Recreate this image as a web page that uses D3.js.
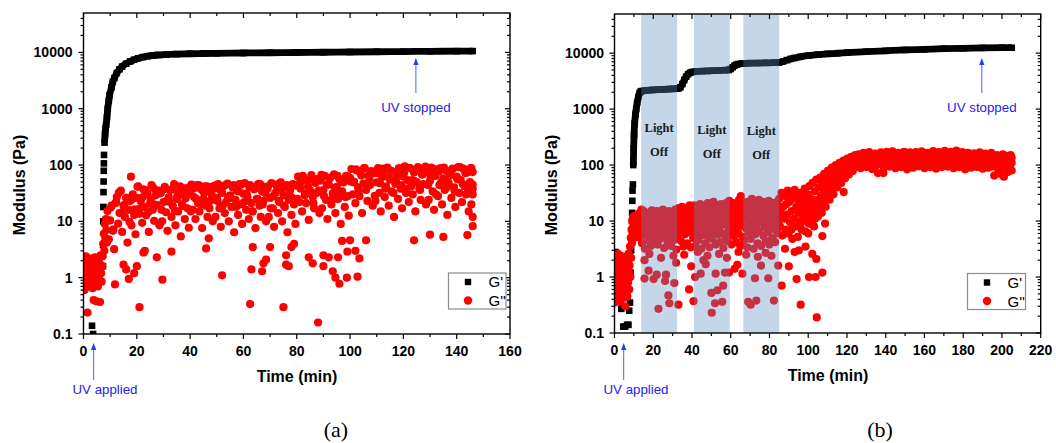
<!DOCTYPE html>
<html><head><meta charset="utf-8">
<script src="https://cdn.jsdelivr.net/npm/d3@7"></script>
<style>body{margin:0;background:#fff}svg{display:block}</style>
</head><body>
<script>
// ---------- data ----------
const xTicksA=[0,20,40,60,80,100,120,140,160];
const xTicksB=[0,20,40,60,80,100,120,140,160,180,200,220];
const yTicks=[0.1,1,10,100,1000,10000];
const yTickLabels=["0.1","1","10","100","1000","10000"];
const legendLabels=["G'","G''"];
const xTitle="Time (min)", yTitle="Modulus (Pa)";
const captions=["(a)","(b)"];
const lightOffB=[[13.8,32.3],[41,59.5],[66.5,85]];
const uvA=[3.8,124.7];   // UV applied, UV stopped (min)
const uvB=[4.75,189.6];

// G' panel (a)
const gpA=[[0.3,0.8],[0.8,1.1],[3.2,0.14],[3.6,0.1],[7.3,1.6],[7.35,3.8],[7.4,10],[7.45,18],[7.5,33],[7.55,51],[7.6,79],[7.65,107],[7.7,151],
[7.9,250],[8.1,360],[8.3,450],[8.5,520],[8.8,700],[9.1,1000],[9.5,1400],[9.8,1750],[10.5,2400],[11,3000],[11.6,3500],[12.5,4300],[13.5,5000],[14.5,5600],[16,6300],[17.5,6900],[19,7400],[20.5,7850],[22.3,8250],[24,8550],[26,8800],[28,8980],[31,9150],[34.8,9300],[40,9450],[45,9550],[50,9620],[60,9750],[70,9850],[80,9950],[90,10050],[100,10150],[110,10250],[120,10350],[130,10450],[140,10500],[146,10550]];

// G'' panel (a)
const gppA=[[0.3,0.6],[0.5,0.9],[0.7,1.5],[0.9,2.4],[1.1,0.8],[1.3,1.1],[1.5,0.24],[1.6,1.9],[1.8,0.7],[2.0,1.3],[2.2,2.2],[2.4,0.9],[2.6,1.6],[2.8,0.75],[3.0,1.2],[3.2,2.0],[3.4,0.65],[3.6,1.4],[3.8,0.4],[4.0,1.0],[4.2,2.3],[4.4,0.8],[4.6,1.7],[4.8,0.38],[5.0,1.1],[5.2,2.1],[5.4,0.7],[5.6,1.5],[5.8,0.95],[6.0,1.8],[6.2,0.37],[6.4,2.5],[6.6,1.2],[6.8,0.85],[7.0,1.6],[7.2,2.4],[7.4,4],[7.6,6],[7.8,3],[8.0,9],[8.2,5],[8.4,11],[8.6,7],[8.8,4.2],
[9.0,15.2],[9.5,4.8],[10.0,10.4],[10.5,19],[11.0,6.8],[11.5,3.2],[12.0,21],[12.5,27],[13.0,9.1],[13.5,14],[14.0,35],[14.5,6.5],[15.0,19],[15.5,12],[16.0,26],[16.5,4.2],[17.0,16],[17.5,23],[18.0,8.5],[18.5,30],[19.0,13],[19.5,5.9],
[20.0,26],[20.5,42],[21.0,13.6],[21.5,23],[22.0,9.4],[22.5,37],[23.0,18],[23.5,12.8],[24.0,31],[24.5,6.5],[25.0,21],[25.5,44],[26.0,16],[26.5,10.2],[27.0,29],[27.5,19.5],[28.0,35],[28.5,8.5],[29.0,32],[29.5,10],[30.0,22],[30.5,41],[31.0,14.5],[31.5,6.8],[32.0,27],[32.5,36],[33.0,12],[33.5,18.7],[34.0,46],[34.5,8.5],[35.0,25],[35.5,15],[36.0,34],[36.5,5.4],[37.0,20],[37.5,30],[38.0,11],[38.5,39],[39.0,17],[39.5,7.7],
[40.0,31],[40.5,45],[41.0,16],[41.5,27],[42.0,11],[42.5,44],[43.0,21],[43.5,15],[44.0,37],[44.5,7.6],[45.0,25],[45.5,42],[46.0,19],[46.5,12],[47.0,34],[47.5,23],[48.0,41],[48.5,10],[49.0,38],[49.5,12],[50.0,26],[50.5,46],[51.0,17],[51.5,8],[52.0,32],[52.5,42],[53.0,14],[53.5,22],[54.0,47],[54.5,10],[55.0,29],[55.5,18],[56.0,40],[56.5,6.4],[57.0,24],[57.5,35],[58.0,13],[58.5,46],[59.0,20],[59.5,9],
[60.0,31],[60.5,48],[61.0,16],[61.5,27],[62.0,11],[62.5,44],[63.0,21],[63.5,15],[64.0,37],[64.5,7.6],[65.0,25],[65.5,46],[66.0,19],[66.5,12],[67.0,34],[67.5,23],[68.0,41],[68.5,10],[69.0,38],[69.5,12],[70.0,26],[70.5,48],[71.0,17],[71.5,8],[72.0,32],[72.5,42],[73.0,14],[73.5,22],[74.0,49],[74.5,10],[75.0,29],[75.5,18],[76.0,40],[76.5,6.4],[77.0,24],[77.5,35],[78.0,13],[78.5,46],[79.0,20],[79.5,9],
[80.0,43],[80.5,62],[81.0,22],[81.5,38],[82.0,15],[82.5,60],[83.0,29],[83.5,21],[84.0,52],[84.5,10.6],[85.0,35],[85.5,66],[86.0,27],[86.5,17],[87.0,48],[87.5,32],[88.0,57],[88.5,14],[89.0,53],[89.5,17],[90.0,36],[90.5,64],[91.0,24],[91.5,11],[92.0,45],[92.5,59],[93.0,20],[93.5,31],[94.0,68],[94.5,14],[95.0,41],[95.5,25],[96.0,56],[96.5,9],[97.0,34],[97.5,49],[98.0,18],[98.5,64],[99.0,28],[99.5,12.6],
[100.0,59],[100.5,85],[101.0,30],[101.5,51],[102.0,21],[102.5,80],[103.0,40],[103.5,28],[104.0,70],[104.5,14],[105.0,47],[105.5,88],[106.0,36],[106.5,23],[107.0,65],[107.5,44],[108.0,78],[108.5,19],[109.0,72],[109.5,23],[110.0,49],[110.5,88],[111.0,32],[111.5,15],[112.0,61],[112.5,80],[113.0,27],[113.5,42],[114.0,90],[114.5,19],[115.0,55],[115.5,34],[116.0,76],[116.5,12],[117.0,46],[117.5,66],[118.0,25],[118.5,87],[119.0,38],[119.5,17],
[120.0,62],[120.5,95],[121.0,32],[121.5,54],[122.0,22],[122.5,88],[123.0,42],[123.5,30],[124.0,74],[124.5,15],[125.0,50],[125.5,92],[126.0,38],[126.5,24],[127.0,68],[127.5,46],[128.0,82],[128.5,20],[129.0,76],[129.5,24],[130.0,52],[130.5,90],[131.0,34],[131.5,16],[132.0,64],[132.5,84],[133.0,28],[133.5,44],[134.0,88],[134.5,20],[135.0,58],[135.5,36],[136.0,80],[136.5,13],[137.0,48],[137.5,70],[138.0,26],[138.5,86],[139.0,40],[139.5,18],[140.0,62],[140.5,92],[141.0,32],[141.5,54],[142.0,22],[142.5,86],[143.0,42],[143.5,30],[144.0,74],[144.5,15],[145.0,50],[145.5,88],[146.0,38],[146,75],[146,45],[146,30],[146,12],[146,8.2],[145.5,20],
[9.25,10.4],[10.25,17.6],[11.25,7.2],[12.25,22],[13.25,32],[14.25,14.3],[15.25,19.5],[16.25,26],[17.25,9.8],[18.25,24.7],[19.25,16.3],
[20.25,41],[21.25,17],[22.25,27],[23.25,36],[24.25,14.5],[25.25,24],[26.25,39],[27.25,19.6],[28.25,31],[29.25,16],[30.25,37],[31.25,23],[32.25,22],[33.25,37],[34.25,15.3],[35.25,29],[36.25,42],[37.25,18.7],[38.25,25.5],[39.25,34],
[40.25,15],[41.25,38],[42.25,25],[43.25,44],[44.25,20],[45.25,32],[46.25,42],[47.25,17],[48.25,28],[49.25,43],[50.25,23],[51.25,36],[52.25,19],[53.25,44],[54.25,27],[55.25,26],[56.25,44],[57.25,18],[58.25,34],[59.25,45],
[60.25,22],[61.25,30],[62.25,40],[63.25,15],[64.25,38],[65.25,25],[66.25,46],[67.25,20],[68.25,32],[69.25,42],[70.25,17],[71.25,28],[72.25,45],[73.25,23],[74.25,36],[75.25,19],[76.25,44],[77.25,27],[78.25,26],[79.25,44],
[80.25,25],[81.25,48],[82.25,64],[83.25,31],[84.25,42],[85.25,56],[86.25,21],[87.25,53],[88.25,35],[89.25,67],[90.25,28],[91.25,45],[92.25,59],[93.25,24],[94.25,39],[95.25,64],[96.25,32],[97.25,50],[98.25,27],[99.25,62],
[100.25,51],[101.25,49],[102.25,84],[103.25,34],[104.25,65],[105.25,88],[106.25,42],[107.25,57],[108.25,76],[109.25,28.5],[110.25,72],[111.25,47.5],[112.25,86],[113.25,38],[114.25,61],[115.25,80],[116.25,32],[117.25,53],[118.25,87],[119.25,44],
[120.25,72],[121.25,38],[122.25,88],[123.25,54],[124.25,52],[125.25,88],[126.25,36],[127.25,68],[128.25,94],[129.25,44],[130.25,60],[131.25,80],[132.25,30],[133.25,76],[134.25,50],[135.25,90],[136.25,40],[137.25,64],[138.25,84],[139.25,34],[140.25,56],[141.25,92],[142.25,46],[143.25,72],[144.25,38],[145.25,88],
[11.8,0.76],[15,1.7],[16,1.4],[17,0.95],[17.8,62],[19,1.2],[20,1.6],[21,0.3],[22.5,2.8],[23,3.0],[27.5,2.3],[29.6,0.92],[33,2.9],[46,3.3],[47,5],[52,1.1],[62.5,0.34],[63,1.4],[63.5,3.5],[67,1.3],[67.5,1.8],[68.5,2.1],[70,3.5],[75,0.3],[76,2.5],[76,1.7],[77,1.6],[78,3.5],[79,4],[84.5,2.3],[86,1.8],[88,0.16],[90,1.6],[90,2.5],[92,2.3],[93.5,1.3],[94.5,1.0],[96,0.78],[95.5,2.3],[98.8,1.0],[99,2.9],[102,3.0],[102.8,1.04],[103.5,2.2],[97,4.5],[100,4.6],[106,4.6],[124,4.6],[130,5.8],[135,5.3],[144,5.7]];

// G' panel (b)
const gpB=[[0.5,2.8],[1,2.2],[1.5,1.4],[2,0.9],[2.5,0.55],[3,0.4],[3.5,0.27],[4,0.3],[4.5,0.13],[5.5,0.13],[6.5,0.14],[7.2,0.14],[7.6,0.25],[8,0.35],[8.3,1.2],[8.6,3],[9.0,10],[9.1,14],[9.2,23],[9.3,35],[9.5,45],
[9.7,100],[9.9,200],[10.1,350],[10.4,550],[10.8,800],[11.2,1000],[11.7,1300],[12.3,1650],[13,1950],[13.5,2050],[14,2100],[16,2150],[18,2180],[20,2200],[22,2220],[24,2240],[26,2260],[28,2280],[30,2300],[32,2320],[33,2340],[34,2450],[35,2800],[36,3300],[37,3800],[38,4200],[39,4450],[40,4600],[42,4700],[45,4750],[48,4800],[51,4850],[54,4900],[57,4950],[59,5000],[60,5200],[61,5600],[62,6000],[63,6250],[64,6400],[66,6500],[70,6600],[74,6650],[78,6700],[82,6750],[85,6800],[87,7100],[89,7500],[91,7900],[93,8200],[96,8600],[100,9000],[105,9400],[110,9700],[115,9950],[120,10200],[130,10600],[140,11000],[150,11400],[160,11700],[170,12000],[180,12200],[190,12400],[200,12500],[205,12500]];

// G'' panel (b)
const gppB=[[0.2,0.35],[0.4,1.2],[0.6,0.6],[0.8,2.2],[1.0,0.9],[1.2,0.45],[1.4,1.6],[1.6,0.75],[1.8,2.6],[2.0,1.1],[2.2,0.5],[2.4,1.9],[2.6,0.37],[2.8,1.3],[3.0,0.8],[3.2,2.4],[3.4,0.55],[3.6,1.5],[3.8,1.0],[4.0,2.0],[4.2,0.65],[4.4,1.2],[4.6,0.42],[4.8,1.7],[5.0,0.9],[5.2,2.3],[5.4,0.5],[5.6,0.3],[5.8,1.4],[6.0,0.7],[6.2,2.1],[6.4,1.0],[6.6,0.45],[6.8,1.8],[7.0,0.8],[7.2,2.6],[7.4,1.2],[7.6,0.6],[7.8,1.6],[8.0,3.5],[8.2,1.0],[8.4,5],[8.6,2.2],[8.8,7],[9.0,4],[9.2,10],[9.4,6],[9.6,12],[9.8,8],[10.0,5],[10.3,11],[10.6,7],[10.9,12.5],[11.2,9],[11.5,5.5],[11.8,12],[12.1,8],[12.4,6],[12.7,11],
[13.0,14],[13.3,5],[13.6,9],[13.9,16],[14.2,4],[14.5,7],[14.8,11],[15.1,15],[15.4,6],[15.7,3.2],[16.0,10],[16.3,13],[16.6,5.5],[16.9,8],[17.2,14],[17.5,4.5],[17.8,9.5],[18.1,6.5],[18.4,12.5],[18.7,3.6],[19.0,7.5],[19.3,15.5],[19.6,10.5],[19.9,5],[20.2,8.5],[20.5,13.5],[20.8,4],[21.1,11.5],[21.4,6],[21.7,9],
[22.0,15],[22.3,3.8],[22.6,12],[22.9,7],[23.2,10],[23.5,4.8],[23.8,14.5],[24.1,8],[24.4,5.8],[24.7,11],[25.0,16],[25.3,6.8],[25.6,3.3],[25.9,9.5],[26.2,13],[26.5,5.2],[26.8,8.8],[27.1,12],[27.4,4.2],[27.7,7.2],[28.0,15],[28.3,10],[28.6,5.6],[28.9,13.5],[29.2,3.6],[29.5,8.2],[29.8,11.5],[30.1,6.2],[30.4,14],[30.7,4.6],
[31.0,9.8],[31.3,16],[31.6,7],[31.9,3.1],[32.2,12.5],[32.5,5.4],[32.8,10.5],[33.1,17],[33.4,6.6],[33.7,8.6],[34.0,13],[34.3,4.4],[34.6,11],[34.9,18],[35.2,7.4],[35.5,3.5],[35.8,9.2],[36.1,14.5],[36.4,5.8],[36.7,12],[37.0,17],[37.3,8],[37.6,4],[37.9,10.5],[38.2,15],[38.5,6.4],[38.8,19],[39.1,9],[39.4,3.4],[39.7,12.5],
[40.0,7.2],[40.3,16],[40.6,5],[40.9,11],[41.2,19],[41.5,8.4],[41.8,3.6],[42.1,13.5],[42.4,6],[42.7,17],[43.0,9.6],[43.3,4.6],[43.6,14],[43.9,7.6],[44.2,20],[44.5,11.5],[44.8,3.2],[45.1,8.8],[45.4,16],[45.7,5.6],[46.0,12.5],[46.3,18],[46.6,6.8],[46.9,4],[47.2,10],[47.5,15],[47.8,8],[48.1,21],[48.4,5.2],[48.7,11.5],
[49.0,3.4],[49.3,14],[49.6,7],[49.9,18],[50.2,9.4],[50.5,4.8],[50.8,13],[51.1,22],[51.4,6.4],[51.7,10.5],[52.0,16],[52.3,3.8],[52.6,8.4],[52.9,19],[53.2,12],[53.5,5.8],[53.8,15],[54.1,7.8],[54.4,4.2],[54.7,11],[55.0,20],[55.3,9],[55.6,6],[55.9,14],[56.2,3.3],[56.5,17],[56.8,8.6],[57.1,12.5],[57.4,5.2],[57.7,21],
[58.0,10],[58.3,4.4],[58.6,15.5],[58.9,7.2],[59.2,23],[59.5,11],[59.8,6.2],[60.1,18],[60.4,3.8],[60.7,13],[61.0,8.4],[61.3,21],[61.6,5.4],[61.9,10.5],[62.2,16],[62.5,7],[62.8,4.2],[63.1,14],[63.4,19],[63.7,9.2],[64.0,6],[64.3,24],[64.6,12],[64.9,3.6],[65.2,28],[65.5,8.2],[65.8,15],[66.1,5.2],[66.4,20],[66.7,10.5],
[67.0,4.6],[67.3,13],[67.6,17],[67.9,7.4],[68.2,22],[68.5,3.4],[68.8,11],[69.1,6.4],[69.4,16],[69.7,9],[70.0,19],[70.3,4.8],[70.6,12.5],[70.9,25],[71.2,7.6],[71.5,14],[71.8,3.2],[72.1,10],[72.4,18],[72.7,5.8],[73.0,21],[73.3,8.8],[73.6,13.5],[73.9,4],[74.2,16],[74.5,24],[74.8,6.6],[75.1,11],[75.4,19],[75.7,3.6],
[76.0,9.4],[76.3,15],[76.6,22],[76.9,5.4],[77.2,12],[77.5,7.8],[77.8,17],[78.1,4.4],[78.4,20],[78.7,10.5],[79.0,14],[79.3,6.4],[79.6,23],[79.9,3.8],[80.2,8.6],[80.5,16],[80.8,12],[81.1,19],[81.4,5],[81.7,10],[82.0,21],[82.3,7.2],[82.6,14],[82.9,4.2],[83.2,17],[83.5,11.5],[83.8,22],[84.1,6],[84.4,9],[84.7,15],
[85.0,25],[85.4,8],[85.8,14],[86.2,32],[86.6,5.5],[87.0,18],[87.4,11],[87.8,28],[88.2,7],[88.6,20],[89.0,13],[89.4,35],[89.8,6],[90.2,22],[90.6,9.5],[91.0,30],[91.4,15],[91.8,4.8],[92.2,25],[92.6,11],[93.0,36],[93.4,8],[93.8,18],[94.2,28],[94.6,5.2],[95.0,14],[95.4,22],[95.8,10],[96.2,32],[96.6,7],
[97.0,17],[97.4,26],[97.8,12],[98.2,38],[98.6,6.5],[99.0,20],[99.4,14],[99.8,30],[100.2,9],[100.6,42],[101.0,17],[101.4,25],[101.8,11],[102.2,48],[102.6,20],[103.0,8],[103.4,34],[103.8,15],[104.2,55],[104.6,24],[105.0,12],[105.4,40],[105.8,19],[106.2,60],[106.6,28],[107.0,14],[107.4,48],[107.8,22],[108.2,70],[108.6,35],
[109.0,18],[109.4,55],[109.8,30],[110.2,80],[110.6,42],[111.0,24],[111.4,65],[111.8,36],[112.2,90],[112.6,50],[113.0,30],[113.4,75],[113.8,45],[114.2,100],[114.6,60],[115.0,40],[115.4,88],[115.8,55],[116.2,110],[116.6,70],[117.0,48],[117.4,95],[117.8,65],[118.2,120],[118.6,80],[119.0,58],[119.4,105],[119.8,75],[120.2,130],[120.6,90],
[121.0,68],[121.4,115],[121.8,85],[122.2,140],[122.6,100],[123.0,78],[123.4,125],[123.8,95],[124.2,150],[124.6,110],
[96,9],[97.5,13],[99,10],[100.5,12],[101.5,9],[102.5,14],[103.5,11],[104.5,16],[105.5,20],[106.5,17],[107.5,30],[108.5,25],[109.5,38],[110.5,32],[111.5,45],[112.5,40],[113.5,58],[114.5,52],[115.5,70],[116.5,85],[117.5,80],[118.5,95],
[125.0,130],[125.5,95],[126.0,155],[126.5,110],[127.0,88],[127.5,140],[128.0,120],[128.5,165],[129.0,100],[129.5,135],[130.0,92],[130.5,150],[131.0,115],[131.5,170],[132.0,105],[132.5,128],[133.0,85],[133.5,145],[134.0,118],[134.5,160],
[135.0,98],[135.5,138],[136.0,72],[136.5,155],[137.0,112],[137.5,168],[138.0,102],[138.5,132],[139.0,90],[139.5,148],[140.0,122],[140.5,172],[141.0,108],[141.5,140],[142.0,94],[142.5,158],[143.0,116],[143.5,175],[144.0,100],[144.5,135],
[145.0,88],[145.5,150],[146.0,125],[146.5,165],[147.0,105],[147.5,142],[148.0,92],[148.5,160],[149.0,118],[149.5,172],[150.0,98],[150.5,138],[151.0,84],[151.5,155],[152.0,112],[152.5,168],[153.0,102],[153.5,130],[154.0,90],[154.5,150],
[155.0,120],[155.5,170],[156.0,106],[156.5,140],[157.0,95],[157.5,158],[158.0,114],[158.5,175],[159.0,100],[159.5,132],[160.0,88],[160.5,148],[161.0,124],[161.5,165],[162.0,104],[162.5,145],[163.0,92],[163.5,160],[164.0,118],[164.5,178],
[165.0,98],[165.5,136],[166.0,86],[166.5,152],[167.0,110],[167.5,170],[168.0,100],[168.5,128],[169.0,92],[169.5,150],[170.0,120],[170.5,180],[171.0,106],[171.5,142],[172.0,94],[172.5,158],[173.0,114],[173.5,172],[174.0,98],[174.5,134],
[175.0,88],[175.5,150],[176.0,125],[176.5,182],[177.0,104],[177.5,144],[178.0,92],[178.5,160],[179.0,116],[179.5,170],[180.0,96],[180.5,136],[181.0,84],[181.5,152],[182.0,110],[182.5,165],[183.0,100],[183.5,130],[184.0,90],[184.5,148],
[185.0,118],[185.5,162],[186.0,104],[186.5,140],[187.0,92],[187.5,155],[188.0,112],[188.5,168],[189.0,98],[189.5,132],[190.0,86],[190.5,148],[191.0,120],[191.5,160],[192.0,102],[192.5,140],[193.0,90],[193.5,155],[194.0,112],[194.5,165],
[195.0,95],[195.5,130],[196.0,65],[196.5,145],[197.0,108],[197.5,150],[198.0,85],[198.5,125],[199.0,70],[199.5,140],[200.0,100],[200.5,155],[201.0,62],[201.5,120],[202.0,88],[202.5,145],[203.0,75],[203.5,130],[204.0,95],[204.5,150],[205.0,110],[205.0,80],[205.0,135],
[118.3,33],[138.8,72],
[15.5,2.0],[15.5,0.94],[17.6,1.3],[20.2,0.92],[21.8,1.1],[22.7,0.27],[26.1,0.85],[26.6,1.1],[27.8,0.47],[28.3,0.34],[30.4,2.4],[30.9,0.78],[31.8,1.8],[33,0.32],[38.5,0.6],[39.6,1.55],[40.8,0.37],[41.6,1.0],[44.5,1.15],[45.9,2.0],[47.1,1.7],[50,0.52],[50.2,0.23],[51.9,0.34],[52.2,1.15],[53.1,0.58],[55.6,0.36],[56.1,0.7],[57,1.2],[59.1,1.2],[62,1.4],[63.4,1.65],[66,1.15],[69,0.36],[70.3,0.32],[72.5,0.95],[73.2,0.38],[75.6,1.6],[79.4,0.95],[82.3,0.38],[84.5,1.6],[86.3,0.7],[90,1.55],[91.3,7],[94,0.92],[95.2,3],[96.1,0.32],[98.6,3.5],[100,6],[100.4,1.0],[102.1,2.6],[103.8,1.0],[104.2,2.1],[104.4,0.19],[107.3,1.2],[107.3,5.4],[108.7,9],
[18,2.6],[24,2.2],[36,2.5],[43,2.8],[48,2.4],[54,2.6],[58,2.2],[64,2.8],[68,2.5],[74,2.3],[78,2.7],[81,2.4],[88,3.2],[93,2.8]];

// ---------- drawing ----------
const svg=d3.select('body').append('svg').attr('width',1056).attr('height',443);
const FONT="'Liberation Sans', Arial, sans-serif";
const BLUE_TXT="#2323f0", BLUE_ARR="#4a63ff";

function drawPanel(o){
  const x=d3.scaleLinear().domain([0,o.xTicks[o.xTicks.length-1]]).range([o.l,o.r]);
  const y=d3.scaleLog().domain([0.1,50000]).range([o.b,o.t]);
  const g=svg.append('g');
  g.append('clipPath').attr('id',o.id).append('rect')
    .attr('x',o.l).attr('y',o.t).attr('width',o.r-o.l).attr('height',o.b-o.t);
  const p=g.append('g').attr('clip-path',`url(#${o.id})`);
  p.append('path').datum(o.gp.filter(d=>d[1]>=o.lineMin))
    .attr('d',d3.line().curve(d3.curveMonotoneX).x(d=>x(d[0])).y(d=>y(d[1])))
    .attr('fill','none').attr('stroke','#000').attr('stroke-width',6.8).attr('stroke-linejoin','round');
  p.selectAll('rect.gp').data(o.gp).join('rect').attr('class','gp')
    .attr('x',d=>x(d[0])-3.3).attr('y',d=>y(d[1])-3.3).attr('width',6.6).attr('height',6.6).attr('fill','#000');
  p.selectAll('circle.gpp').data(o.gpp).join('circle').attr('class','gpp')
    .attr('cx',d=>x(d[0])).attr('cy',d=>y(d[1])).attr('r',o.rad).attr('fill','#ff0000');
  if(o.bands){
    p.selectAll('rect.band').data(o.bands).join('rect').attr('class','band')
      .attr('x',d=>x(d[0])).attr('width',d=>x(d[1])-x(d[0]))
      .attr('y',o.t).attr('height',o.b-o.t)
      .attr('fill','rgb(92,140,190)').attr('fill-opacity',0.36);
    o.bands.forEach((d,i)=>{
      const cx=(x(d[0])+x(d[1]))/2, dy=i*1.5;
      ['Light','Off'].forEach((s,j)=>{
        g.append('text').attr('x',cx).attr('y',132+dy+j*24).attr('text-anchor','middle')
          .attr('font-family',"'Liberation Serif','Times New Roman',serif").attr('font-weight','bold')
          .attr('font-size',12.5).attr('fill','#1a1a1a').text(s);
      });
    });
  }
  g.append('rect').attr('x',o.l).attr('y',o.t).attr('width',o.r-o.l).attr('height',o.b-o.t)
    .attr('fill','none').attr('stroke','#000').attr('stroke-width',1.4);
  const tk=(x1,y1,x2,y2)=>g.append('line').attr('x1',x1).attr('y1',y1).attr('x2',x2).attr('y2',y2)
    .attr('stroke','#000').attr('stroke-width',1.2);
  o.xTicks.forEach((v,i)=>{
    const px=x(v);
    tk(px,o.b,px,o.b+5); tk(px,o.t,px,o.t+5);
    g.append('text').attr('x',px).attr('y',o.b+22).attr('text-anchor','middle')
      .attr('font-family',FONT).attr('font-weight','bold').attr('font-size',14).text(v);
    if(i<o.xTicks.length-1){const m=x(v+10); tk(m,o.b,m,o.b+3); tk(m,o.t,m,o.t+3);}
  });
  yTicks.forEach((v,i)=>{
    const py=y(v);
    tk(o.l-5,py,o.l,py); tk(o.r-5,py,o.r,py);
    g.append('text').attr('x',o.l-o.labOff).attr('y',py+5).attr('text-anchor','end')
      .attr('font-family',FONT).attr('font-weight','bold').attr('font-size',14).text(yTickLabels[i]);
    for(let k=2;k<=9;k++){const mv=v*k; if(mv<50000){const m=y(mv); tk(o.l-3,m,o.l,m); tk(o.r-3,m,o.r,m);}}
  });
  g.append('text').attr('x',o.xTitleX).attr('y',o.xTitleY).attr('text-anchor','middle')
    .attr('font-family',FONT).attr('font-weight','bold').attr('font-size',16).text(xTitle);
  g.append('text').attr('transform',`translate(${o.yTitleX},185) rotate(-90)`).attr('text-anchor','middle')
    .attr('font-family',FONT).attr('font-weight','bold').attr('font-size',16).text(yTitle);
  g.append('rect').attr('x',o.leg[0]).attr('y',o.leg[1]).attr('width',o.leg[2]).attr('height',o.leg[3])
    .attr('fill','#fff').attr('stroke','#8c8c8c').attr('stroke-width',1.2);
  const mx=o.leg[0]+19.5;
  g.append('rect').attr('x',mx-3.2).attr('y',o.leg[1]+9-3.2).attr('width',6.4).attr('height',6.4).attr('fill','#000');
  g.append('circle').attr('cx',mx).attr('cy',o.leg[1]+27.5).attr('r',4.2).attr('fill','#ff0000');
  legendLabels.forEach((s,i)=>g.append('text').attr('x',mx+20.5).attr('y',o.leg[1]+14+i*19)
    .attr('font-family',FONT).attr('font-size',15).text(s));
  const arrow=(px,y1,y2)=>{
    g.append('line').attr('x1',px).attr('y1',y1).attr('x2',px).attr('y2',y2+6).attr('stroke',BLUE_ARR).attr('stroke-width',1);
    g.append('path').attr('d',`M${px},${y2} L${px-2.6},${y2+7} L${px+2.6},${y2+7} Z`).attr('fill','#1f3cff');
  };
  arrow(x(o.uv[0]),380,343);
  g.append('text').attr('x',o.appliedX).attr('y',394).attr('text-anchor','middle')
    .attr('font-family',FONT).attr('font-size',13.3).attr('fill',BLUE_TXT).text('UV applied');
  arrow(x(o.uv[1]),93,58);
  g.append('text').attr('x',x(o.uv[1])).attr('y',112).attr('text-anchor','middle')
    .attr('font-family',FONT).attr('font-size',13.3).attr('fill',BLUE_TXT).text('UV stopped');
  svg.append('text').attr('x',o.capX).attr('y',437).attr('text-anchor','middle')
    .attr('font-family',"'Liberation Serif','Times New Roman',serif").attr('font-size',22).text(o.cap);
}

drawPanel({id:'clipA',l:83.5,r:510,t:13,b:334,xTicks:xTicksA,gp:gpA,gpp:gppA,lineMin:200,rad:4.1,
  labOff:11,xTitleX:297,xTitleY:382,yTitleX:25,leg:[448.5,273,57.5,36],uv:uvA,appliedX:105,capX:336,cap:captions[0]});
drawPanel({id:'clipB',l:614.5,r:1040.7,t:14,b:333,xTicks:xTicksB,gp:gpB,gpp:gppB,lineMin:90,rad:4.1,bands:lightOffB,
  labOff:10.5,xTitleX:828,xTitleY:381,yTitleX:556.5,leg:[967.5,273.5,58,36],uv:uvB,appliedX:636,capX:880,cap:captions[1]});
</script>
</body></html>
